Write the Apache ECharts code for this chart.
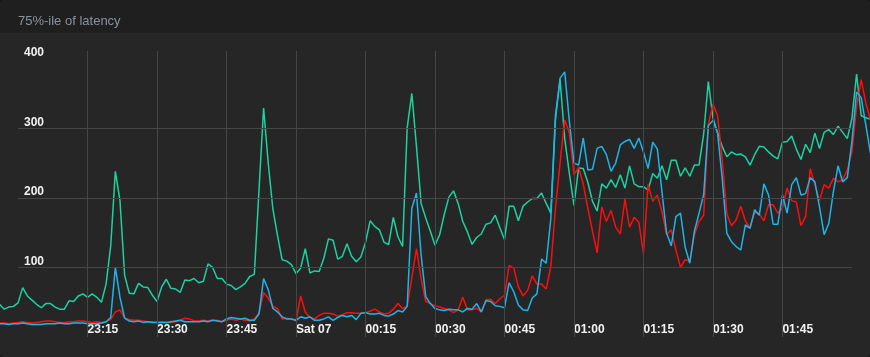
<!DOCTYPE html>
<html>
<head>
<meta charset="utf-8">
<script src="https://cdn.jsdelivr.net/npm/echarts@6/dist/echarts.min.js"></script>
<style>
  html, body { margin: 0; padding: 0; background: #141414; }
  #panel { position: relative; width: 870px; height: 357px; border-radius: 4px; overflow: hidden;
           background: linear-gradient(#1f1f1f 0, #1f1f1f 33px, #262626 33px, #262626 100%); }
  #chart { position: absolute; left: 0; top: 0; width: 870px; height: 357px; }
</style>
</head>
<body>
<div id="panel"><div id="chart"></div></div>
<script>
// Title
const chartTitle = '75%-ile of latency';

// Time axis: minutes after 23:00 (first sample at 22:56, one sample per minute)
const firstMinute = -4;
const xTickMinutes = [15, 30, 45, 60, 75, 90, 105, 120, 135, 150, 165];
const xTickLabels = ['23:15', '23:30', '23:45', 'Sat 07', '00:15', '00:30', '00:45', '01:00', '01:15', '01:30', '01:45'];
const xGridStart = 0, xGridEnd = 180;     // horizontal grid lines span 23:00 .. 02:00
const yTickValues = [100, 200, 300, 400];
const yGridValues = [100, 200, 300];

// Series values (latency), one per minute from 22:56
const greenValues = [
  47, 40, 43, 44, 49, 71, 59, 53, 47, 42, 48, 48, 43, 40, 40, 52, 51, 59, 62, 57, 62, 57, 50, 76, 131, 238, 196, 89, 63, 62, 77, 72,
  71, 60, 51, 72, 83, 70, 69, 64, 82, 81, 84, 78, 80, 105, 100, 84, 84, 76, 74, 68, 72, 77, 87, 90, 210, 329, 250, 184, 146, 111, 109,
  104, 91, 99, 127, 92, 95, 94, 113, 141, 139, 112, 116, 134, 116, 108, 115, 136, 167, 159, 154, 136, 133, 172, 144, 130, 301, 350, 274, 192, 171, 152,
  132, 147, 176, 201, 210, 192, 166, 151, 133, 143, 148, 162, 164, 175, 157, 140, 188, 188, 167, 188, 194, 199, 199, 207, 192, 178, 318, 370, 285, 235, 189, 243,
  242, 222, 195, 181, 220, 214, 226, 215, 233, 214, 246, 220, 216, 216, 211, 235, 228, 246, 226, 254, 254, 231, 243, 231, 247, 247, 292, 367, 315, 293, 274,
  259, 266, 262, 263, 259, 247, 262, 274, 273, 266, 260, 256, 280, 281, 289, 270, 255, 277, 265, 293, 271, 294, 298, 291, 303, 294, 285, 314, 378, 318, 315, 313
];
const redValues = [
  20, 20, 19, 20, 21, 22, 21, 20, 21, 22, 23, 23, 22, 21, 21, 22, 22, 23, 23, 22, 21, 22, 21, 22, 25, 36, 39, 27, 25, 24, 24, 23,
  22, 22, 21, 22, 21, 21, 22, 24, 27, 26, 23, 23, 24, 23, 24, 24, 22, 24, 26, 24, 26, 24, 23, 26, 34, 64, 56, 44, 41, 26, 27,
  26, 23, 59, 36, 28, 26, 31, 34, 34, 33, 30, 32, 35, 35, 34, 34, 35, 37, 40, 36, 33, 34, 40, 48, 41, 44, 85, 127, 84, 51, 48,
  45, 43, 41, 39, 35, 39, 57, 39, 39, 41, 36, 54, 54, 48, 55, 60, 103, 99, 72, 59, 67, 88, 76, 76, 69, 101, 185, 250, 312, 293, 233, 244,
  220, 185, 152, 121, 187, 166, 182, 158, 148, 198, 158, 172, 165, 120, 219, 195, 204, 180, 147, 154, 125, 100, 111, 109, 147, 166, 175, 305, 335, 318, 255,
  177, 160, 168, 188, 167, 157, 179, 177, 167, 190, 190, 178, 185, 214, 196, 194, 160, 173, 242, 219, 196, 219, 214, 228, 223, 226, 240, 266, 331, 370, 336, 312
];
const cyanValues = [
  19, 19, 18, 19, 19, 20, 19, 18, 18, 18, 19, 19, 19, 20, 19, 19, 20, 20, 20, 19, 19, 19, 20, 22, 28, 100, 57, 27, 23, 22, 23, 21,
  22, 21, 21, 21, 21, 22, 23, 24, 22, 22, 22, 22, 23, 22, 24, 23, 22, 26, 28, 27, 26, 27, 24, 24, 33, 84, 68, 41, 36, 29, 26,
  26, 24, 29, 27, 29, 24, 24, 26, 29, 24, 28, 31, 29, 31, 25, 34, 35, 33, 33, 34, 31, 30, 33, 38, 36, 44, 185, 207, 118, 58, 48,
  41, 39, 38, 40, 39, 39, 36, 41, 40, 48, 36, 52, 51, 45, 44, 42, 78, 65, 46, 39, 38, 56, 62, 112, 106, 170, 312, 372, 381, 310, 250, 247,
  286, 240, 241, 271, 274, 262, 238, 250, 276, 281, 284, 271, 286, 266, 242, 280, 270, 208, 149, 131, 173, 178, 129, 106, 152, 178, 205, 304, 311, 293, 228,
  149, 137, 130, 125, 161, 156, 183, 175, 220, 204, 162, 162, 204, 178, 219, 229, 204, 206, 229, 223, 187, 147, 163, 209, 246, 223, 229, 281, 352, 344, 305, 264
];

const seriesNames = ['p75 a', 'p75 b', 'p75 c'];
const seriesColors = ['#1ad3a0', '#ff0d0d', '#1cb5ea'];

function pairs(values) {
  const out = [];
  for (let i = 0; i < values.length; i++) out.push([firstMinute + i, values[i]]);
  return out;
}

const chart = echarts.init(document.getElementById('chart'), null, { renderer: 'canvas' });
const labelFont = { color: '#f2f2f2', fontSize: 12, fontWeight: 'bold', fontFamily: 'Liberation Sans, Arial, sans-serif' };
const gridColor = '#464646';

const gridLines = [];
xTickMinutes.forEach(function (m) { gridLines.push({ xAxis: m }); });
yGridValues.forEach(function (v) { gridLines.push([{ coord: [xGridStart, v] }, { coord: [xGridEnd, v] }]); });

chart.setOption({
  backgroundColor: 'transparent',
  animation: false,
  title: {
    text: chartTitle, left: 13, top: 10,
    textStyle: { color: '#8a929e', fontSize: 13, fontWeight: 'normal', fontFamily: 'Liberation Sans, Arial, sans-serif' }
  },
  grid: { left: 0, right: 0, top: 51, bottom: 20, containLabel: false },
  xAxis: {
    type: 'value', min: -3.9, max: 183.9,
    axisLine: { show: false }, axisTick: { show: false }, splitLine: { show: false },
    axisLabel: Object.assign({
      inside: true, margin: 1, align: 'left', customValues: xTickMinutes,
      formatter: function (v) { const k = xTickMinutes.indexOf(Math.round(v)); return k >= 0 ? xTickLabels[k] : ''; }
    }, labelFont)
  },
  yAxis: {
    type: 'value', min: 0, max: 411, interval: 100,
    axisLine: { show: false }, axisTick: { show: false }, splitLine: { show: false },
    axisLabel: Object.assign({
      inside: true, margin: 24, verticalAlign: 'bottom', lineHeight: 12, padding: [0, 0, 0, 0],
      showMinLabel: false, showMaxLabel: false,
      formatter: function (v) { return yTickValues.indexOf(v) >= 0 ? String(v) : ''; }
    }, labelFont)
  },
  series: [{
    name: 'grid', type: 'line', data: [], z: 1, silent: true,
    markLine: {
      silent: true, symbol: ['none', 'none'], animation: false,
      label: { show: false },
      lineStyle: { color: gridColor, type: 'solid', width: 1 },
      emphasis: { disabled: true },
      data: gridLines
    }
  }].concat([greenValues, redValues, cyanValues].map(function (vals, i) {
    return {
      name: seriesNames[i], type: 'line', data: pairs(vals),
      showSymbol: false, symbol: 'none', smooth: false,
      lineStyle: { color: seriesColors[i], width: 1.5 },
      itemStyle: { color: seriesColors[i] }, z: 2 + i
    };
  }))
});
</script>
</body>
</html>
